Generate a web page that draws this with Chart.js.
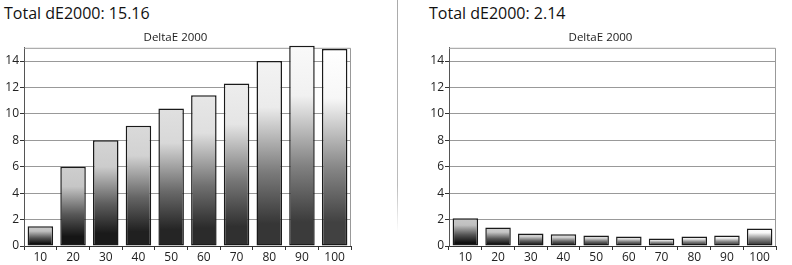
<!DOCTYPE html>
<html>
<head>
<meta charset="utf-8">
<script src="https://cdn.jsdelivr.net/npm/chart.js@4"></script>
<style>
    body { margin: 0; background: #fff; width: 792px; height: 265px; position: relative; overflow: hidden; font-family: "Open Sans", sans-serif; }
    .total { position: absolute; top: 2px; font-size: 16px; color: #111; }
    canvas { position: absolute; top: 0; }
    #sep { position: absolute; left: 397px; top: 0; width: 1px; height: 232px; background: linear-gradient(#aaa, #bbb 80%, #fff); }
</style>
</head>
<body>
<div class="total" style="left:4px">Total dE2000: 15.16</div>
<div class="total" style="left:429px">Total dE2000: 2.14</div>
<div id="sep"></div>
<canvas id="before" width="396" height="265" style="left:0"></canvas>
<canvas id="after" width="396" height="265" style="left:396px"></canvas>
<script>
const categories = ['10', '20', '30', '40', '50', '60', '70', '80', '90', '100'];
const beforeValues = [1.5, 6.0, 8.0, 9.1, 10.4, 11.4, 12.3, 14.0, 15.15, 14.9];
const afterValues = [2.1, 1.4, 0.95, 0.88, 0.8, 0.72, 0.57, 0.72, 0.8, 1.33];
const yTicks = [0, 2, 4, 6, 8, 10, 12, 14];
const yMax = 15;
const chartTitle = 'DeltaE 2000';

Chart.defaults.font.family = "'Open Sans', sans-serif";
Chart.defaults.color = '#111';

function grey(v) {
    v = Math.max(0, Math.min(255, Math.round(v)));
    return `rgb(${v},${v},${v})`;
}

// glossy grey gradient, lighter for the brighter steps
function barFill(ctx) {
    const chart = ctx.chart;
    const y = chart.scales.y;
    if (!chart.chartArea || !y) return '#888';
    const top = y.getPixelForValue(ctx.raw);
    const base = y.getPixelForValue(0);
    const k = ctx.dataIndex / 9;
    const light = 200 + 55 * k;
    const dark = 15 + 50 * k;
    const g = chart.ctx.createLinearGradient(0, top, 0, base);
    g.addColorStop(0, grey(light));
    g.addColorStop(0.25, grey(light - 8));
    g.addColorStop(0.6, grey((light + dark) / 2 - 25));
    g.addColorStop(0.88, grey(dark));
    g.addColorStop(1, grey(dark));
    return g;
}

// grey frame round the plot area
const frame = {
    id: 'frame',
    beforeDatasetsDraw(chart) {
        const a = chart.chartArea;
        const c = chart.ctx;
        c.save();
        c.strokeStyle = '#999';
        c.lineWidth = 1;
        c.beginPath();
        c.moveTo(a.left, a.top + 0.5);
        c.lineTo(a.right - 0.5, a.top + 0.5);
        c.lineTo(a.right - 0.5, a.bottom);
        c.stroke();
        c.restore();
    }
};

function makeChart(id, values, padLeft, padRight) {
    return new Chart(document.getElementById(id), {
        type: 'bar',
        data: {
            labels: categories,
            datasets: [{
                data: values,
                backgroundColor: barFill,
                borderColor: '#1a1a1a',
                borderWidth: 1.5,
                borderSkipped: false,
                barPercentage: 0.78,
                categoryPercentage: 1,
                clip: false
            }]
        },
        options: {
            responsive: false,
            animation: false,
            layout: { padding: { left: padLeft, right: padRight, top: 28, bottom: 0 } },
            plugins: {
                legend: { display: false },
                tooltip: { enabled: false },
                title: {
                    display: true,
                    text: chartTitle,
                    color: '#222',
                    font: { size: 11.5, weight: 'normal' },
                    padding: { top: 3, bottom: 3 }
                }
            },
            scales: {
                x: {
                    grid: { offset: true, drawOnChartArea: false, tickLength: 4, tickColor: '#333' },
                    border: { color: '#333', width: 1 },
                    ticks: { padding: 0, font: { size: 12 }, color: '#222' },
                    afterFit: s => { s.height = 19; }
                },
                y: {
                    min: 0,
                    max: yMax,
                    afterBuildTicks: axis => { axis.ticks = yTicks.map(v => ({ value: v })); },
                    grid: { color: '#999', tickLength: 4, tickColor: '#333' },
                    border: { color: '#555', width: 1 },
                    ticks: { padding: 1, font: { size: 12 }, color: '#222' },
                    afterFit: s => { s.width = 24; }
                }
            }
        },
        plugins: [frame]
    });
}

makeChart('before', beforeValues, 0, 45);
makeChart('after', afterValues, 29, 16);
</script>
</body>
</html>
